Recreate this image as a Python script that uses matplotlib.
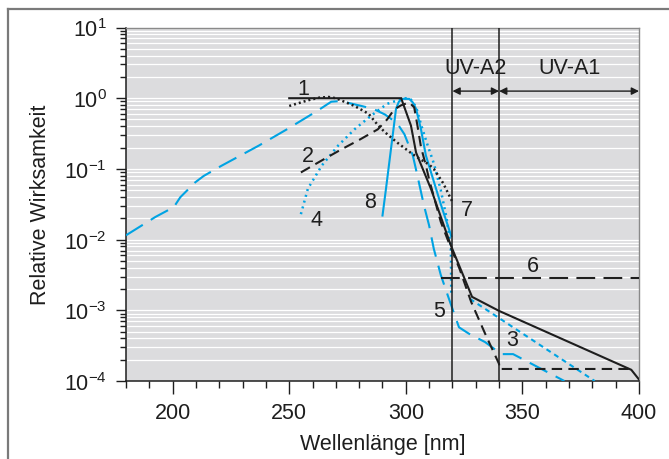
import matplotlib
matplotlib.use("Agg")
import matplotlib.pyplot as plt
from matplotlib.lines import Line2D
from matplotlib.ticker import LogLocator, MultipleLocator, NullFormatter, FixedLocator

plt.rcParams['font.family'] = ['Liberation Sans', 'DejaVu Sans']
plt.rcParams['mathtext.fontset'] = 'custom'
plt.rcParams['mathtext.rm'] = 'Liberation Sans'
plt.rcParams['mathtext.it'] = 'Liberation Sans'
plt.rcParams['mathtext.default'] = 'regular'

CYAN = '#00a3e3'
INK = '#1e1e1e'

# wavelength [nm] / relative effectiveness
c1_nm = [250, 298, 302.2, 304.4, 310.8, 319.3, 328.4, 340, 396.7, 400]
c1_val = [1.0, 1.0, 0.41, 0.17, 0.052, 0.0083, 0.00155, 0.00098, 0.000144, 0.000105]

c2_nm = [255, 264, 272, 280, 288, 292, 295, 298, 301.5, 303.6, 305, 306.5, 308.6, 310,
         315, 319, 323, 328, 334, 340, 340, 397]
c2_val = [0.0891, 0.132, 0.186, 0.257, 0.363, 0.501, 0.692, 0.794, 0.871, 0.741, 0.407, 0.204,
          0.112, 0.0708, 0.0178, 0.00813, 0.00389, 0.00132, 0.000468, 0.000174, 0.000148, 0.000148]

c4_nm = [255, 258, 264, 271, 278, 285, 292, 296.5, 300, 302, 304.5, 306.5, 309, 312, 315,
         317.5, 319.3, 319.5]
c4_val = [0.0229, 0.0525, 0.112, 0.214, 0.363, 0.562, 0.832, 0.933, 1.0, 0.977, 0.741, 0.427,
          0.234, 0.120, 0.0501, 0.0200, 0.00794, 0.00158]

c5_nm = [180, 192.6, 200.5, 203.3, 209.7, 213.3, 221, 237, 249, 255, 262, 268, 272, 281, 286,
         291, 294, 297, 299.4, 303, 305, 307.8, 310, 312, 315, 318, 320, 322.8, 327, 334, 341,
         346, 368]
c5_val = [0.0115, 0.0209, 0.0288, 0.0398, 0.0646, 0.0794, 0.111, 0.214, 0.363, 0.479, 0.661,
          0.891, 0.912, 0.776, 0.708, 0.589, 0.501, 0.407, 0.309, 0.155, 0.0794, 0.0302, 0.0158,
          0.00741, 0.00316, 0.00162, 0.00105, 0.000575, 0.000468, 0.000355, 0.00024, 0.00024,
          0.0001]

c5b_nm = [327.5, 381]
c5b_val = [0.00145, 0.0001]

c6_nm = [315, 400]
c6_val = [0.0029, 0.0029]

c7_nm = [250, 255, 258, 263, 267, 270, 278, 284, 288, 291, 296, 302, 306, 310, 312, 316, 320]
c7_val = [0.776, 0.871, 0.933, 1.02, 1.04, 1.0, 0.776, 0.603, 0.417, 0.331, 0.240, 0.170,
          0.138, 0.115, 0.100, 0.063, 0.034]

c8_nm = [290, 291.5, 295.8, 297, 298.5, 301.5, 303, 304.4, 306.5, 308.6, 311.1, 315, 319.5]
c8_val = [0.0219, 0.0525, 0.708, 0.891, 0.977, 0.977, 0.871, 0.708, 0.363, 0.155, 0.0832,
          0.0316, 0.0112]

curve_labels = ['1', '2', '3', '4', '5', '6', '7', '8']
band_edges = [320, 340, 400]
band_names = ['UV-A2', 'UV-A1']

fig = plt.figure(figsize=(6.69, 4.6), dpi=100)
ax = fig.add_axes([126 / 669, 1 - 382 / 460, 513 / 669, 353.5 / 460])
ax.set_facecolor('#dcdcde')
ax.set_yscale('log')
ax.set_xlim(180, 400)
ax.set_ylim(1e-4, 10)

ax.yaxis.grid(True, which='both', color='white', lw=0.9)
ax.set_axisbelow(True)

lw = 1.5
ax.plot(c1_nm, c1_val, color=INK, lw=lw, solid_joinstyle='miter', zorder=5)
ax.plot(c2_nm, c2_val, color=INK, lw=lw, dashes=(5, 3), zorder=4)
ax.plot(c6_nm, c6_val, color=INK, lw=lw, dashes=(9, 4), zorder=4)
ax.plot(c7_nm, c7_val, color=INK, lw=1.8, dashes=(0.8, 1.2), zorder=4)
ax.plot(c4_nm, c4_val, color=CYAN, lw=1.8, dashes=(0.8, 1.6), zorder=3)
ax.plot(c5_nm, c5_val, color=CYAN, lw=lw, dashes=(9.5, 4.5), zorder=3)
ax.plot(c5b_nm, c5b_val, color=CYAN, lw=lw, dashes=(2.4, 2), zorder=3)
ax.plot(c8_nm, c8_val, color=CYAN, lw=lw, zorder=3)

# band markers
for edge in band_edges[:2]:
    ax.axvline(edge, color=INK, lw=1.1, zorder=6)
arrow_y = 1.26
for (a, b), name in zip(zip(band_edges[:-1], band_edges[1:]), band_names):
    ax.annotate('', xy=(a, arrow_y), xytext=(b, arrow_y),
                arrowprops=dict(arrowstyle='<|-|>', color=INK, lw=1.0,
                                mutation_scale=11, shrinkA=0, shrinkB=0), zorder=6)
    ax.text((a + b) / 2, 2.7, name, ha='center', va='center', fontsize=15.5, color=INK)

label_pos = [(256, 1.38), (258, 0.155), (345.4, 0.00039), (261.6, 0.0195),
             (314.2, 0.001), (354.5, 0.0043), (326.1, 0.027), (284.7, 0.035)]
for lab, (xp, yp) in zip(curve_labels, label_pos):
    ax.text(xp, yp, lab, ha='center', va='center', fontsize=15.5, color=INK, zorder=7)

# axes
ax.xaxis.set_minor_locator(MultipleLocator(10))
ax.set_xticks([200, 250, 300, 350, 400])
ax.yaxis.set_major_locator(FixedLocator([1e-4, 1e-3, 1e-2, 1e-1, 1, 10]))
ax.set_yticklabels([r'$10^{-4}$', r'$10^{-3}$', r'$10^{-2}$', r'$10^{-1}$', r'$10^{0}$', r'$10^{1}$'])
ax.yaxis.set_minor_locator(LogLocator(base=10, subs=range(2, 10)))
ax.yaxis.set_minor_formatter(NullFormatter())
ax.tick_params(axis='both', which='major', direction='out', length=7, width=1,
               labelsize=15.5, color=INK, labelcolor=INK)
ax.tick_params(axis='x', which='major', length=9, pad=6)
ax.tick_params(axis='x', which='minor', direction='out', length=5, width=1, color=INK)
ax.tick_params(axis='y', which='minor', direction='out', length=4, width=1, color=INK)
ax.tick_params(axis='y', which='major', pad=7)

for side in ['left', 'bottom']:
    ax.spines[side].set_color(INK)
    ax.spines[side].set_linewidth(1.1)
for side in ['top', 'right']:
    ax.spines[side].set_color('#8a8a8a')
    ax.spines[side].set_linewidth(1.0)

ax.set_xlabel('Wellenlänge [nm]', fontsize=15.5, color=INK, labelpad=7)
ax.set_ylabel('Relative Wirksamkeit', fontsize=15.5, color=INK, labelpad=9)

# outer frame
fig.add_artist(Line2D([8 / 669, 1], [1 - 10 / 460, 1 - 10 / 460], transform=fig.transFigure,
                      color='#7a7a7a', lw=1.6))
fig.add_artist(Line2D([8 / 669, 8 / 669], [0, 1 - 10 / 460], transform=fig.transFigure,
                      color='#7a7a7a', lw=1.6))

fig.savefig('out.png', dpi=100)
